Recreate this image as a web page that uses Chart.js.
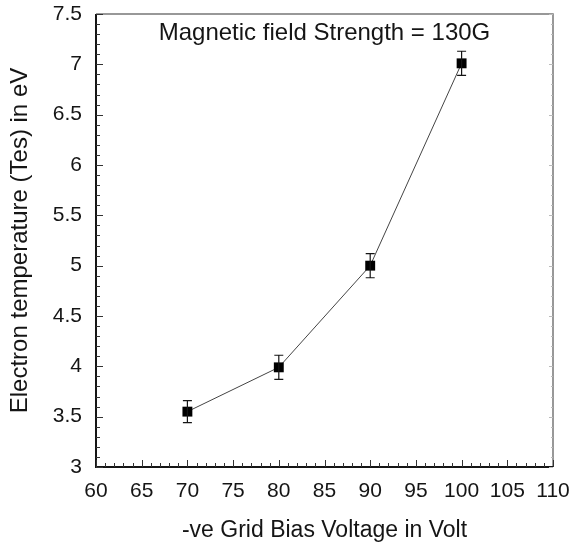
<!DOCTYPE html>
<html>
<head>
<meta charset="utf-8">
<script src="https://cdn.jsdelivr.net/npm/chart.js@4/dist/chart.umd.min.js"></script>
<style>
  html, body { margin: 0; padding: 0; background: #fff; }
  #wrap { width: 571px; height: 546px; }
</style>
</head>
<body>
<div id="wrap"><canvas id="c" width="571" height="546"></canvas></div>
<script>
// Grid bias voltage (V) and measured electron temperature (eV)
const biasVoltage = [70, 80, 90, 100];
const electronTemp = [3.55, 3.99, 5.0, 7.01];
const tempError = [0.11, 0.12, 0.12, 0.12];

const xTicks = [60, 65, 70, 75, 80, 85, 90, 95, 100, 105, 110];
const yTicks = [3, 3.5, 4, 4.5, 5, 5.5, 6, 6.5, 7, 7.5];

const chartTitle = 'Magnetic field Strength = 130G';
const xTitle = '-ve Grid Bias Voltage in Volt';
const yTitle = 'Electron temperature (Tes) in eV';

const FONT = '"Liberation Sans", Arial, sans-serif';
const INK = '#151515';

// Inward tick marks, frame, error bars and the in-plot heading
const framePlugin = {
  id: 'frame',
  afterDraw(chart) {
    const { ctx, chartArea: a, scales: { x, y } } = chart;
    ctx.save();
    // top and right frame, lighter
    ctx.strokeStyle = '#777';
    ctx.lineWidth = 1.5;
    ctx.beginPath();
    ctx.moveTo(a.left, a.top); ctx.lineTo(a.right, a.top); ctx.lineTo(a.right, a.bottom);
    ctx.stroke();
    // left and bottom axes, heavier
    ctx.strokeStyle = INK;
    ctx.lineWidth = 2;
    ctx.beginPath();
    ctx.moveTo(a.left, a.top); ctx.lineTo(a.left, a.bottom); ctx.lineTo(a.right, a.bottom);
    ctx.stroke();

    ctx.lineWidth = 1;
    ctx.strokeStyle = '#333';
    // x ticks: minor every 1 V, major every 5 V
    for (let v = x.min; v <= x.max + 1e-9; v += 1) {
      const px = Math.round(x.getPixelForValue(v)) + 0.5;
      const major = Math.abs(v % 5) < 1e-9;
      const len = major ? 7 : 4;
      ctx.beginPath(); ctx.moveTo(px, a.bottom); ctx.lineTo(px, a.bottom - len); ctx.stroke();
    }
    // y ticks: minor every 0.1 eV, major every 0.5 eV
    for (let i = 0; i <= Math.round((y.max - y.min) / 0.1); i++) {
      const v = y.min + i * 0.1;
      const py = Math.round(y.getPixelForValue(v)) + 0.5;
      const major = i % 5 === 0;
      const len = major ? 7 : 4;
      ctx.beginPath(); ctx.moveTo(a.left, py); ctx.lineTo(a.left + len, py); ctx.stroke();
      ctx.strokeStyle = '#bbb';
      ctx.beginPath(); ctx.moveTo(a.right, py); ctx.lineTo(a.right - (major ? 4 : 2), py); ctx.stroke();
      ctx.strokeStyle = '#333';
    }

    // error bars
    ctx.strokeStyle = INK;
    ctx.lineWidth = 1.2;
    biasVoltage.forEach((xv, i) => {
      const px = x.getPixelForValue(xv);
      const top = y.getPixelForValue(electronTemp[i] + tempError[i]);
      const bot = y.getPixelForValue(electronTemp[i] - tempError[i]);
      ctx.beginPath();
      ctx.moveTo(px, top); ctx.lineTo(px, bot);
      ctx.moveTo(px - 4.5, top); ctx.lineTo(px + 4.5, top);
      ctx.moveTo(px - 4.5, bot); ctx.lineTo(px + 4.5, bot);
      ctx.stroke();
    });

    // heading inside the plot
    ctx.fillStyle = INK;
    ctx.font = '24px ' + FONT;
    ctx.textAlign = 'center';
    ctx.textBaseline = 'middle';
    ctx.fillText(chartTitle, (a.left + a.right) / 2, a.top + 19);
    ctx.restore();
  }
};

new Chart(document.getElementById('c'), {
  type: 'scatter',
  data: {
    datasets: [{
      data: biasVoltage.map((v, i) => ({ x: v, y: electronTemp[i] })),
      showLine: true,
      borderColor: '#444',
      borderWidth: 1,
      pointStyle: 'rect',
      pointRadius: 7,
      pointBackgroundColor: '#000',
      pointBorderColor: '#000',
      pointBorderWidth: 0
    }]
  },
  options: {
    responsive: false,
    animation: false,
    layout: { padding: { top: 14, right: 18, left: 0, bottom: 0 } },
    plugins: { legend: { display: false }, tooltip: { enabled: false } },
    scales: {
      x: {
        type: 'linear',
        min: 60, max: 110,
        afterBuildTicks: s => { s.ticks = xTicks.map(v => ({ value: v })); },
        afterFit: s => { s.height = 79; s.paddingLeft = 0; s.paddingRight = 0; },
        grid: { display: false, drawTicks: false },
        border: { display: false },
        ticks: { color: INK, font: { family: FONT, size: 21 }, padding: 12, callback: v => String(v) },
        title: { display: true, text: xTitle, color: INK, font: { family: FONT, size: 23 }, padding: { top: 0, bottom: 2 } }
      },
      y: {
        type: 'linear',
        min: 3, max: 7.5,
        afterBuildTicks: s => { s.ticks = yTicks.map(v => ({ value: v })); },
        afterFit: s => { s.width = 96; s.paddingTop = 0; s.paddingBottom = 0; },
        grid: { display: false, drawTicks: false },
        border: { display: false },
        ticks: { color: INK, font: { family: FONT, size: 21 }, padding: 14, callback: v => String(v) },
        title: { display: true, text: yTitle, color: INK, font: { family: FONT, size: 24 }, padding: { top: 6, bottom: 0 } }
      }
    }
  },
  plugins: [framePlugin]
});
</script>
</body>
</html>
